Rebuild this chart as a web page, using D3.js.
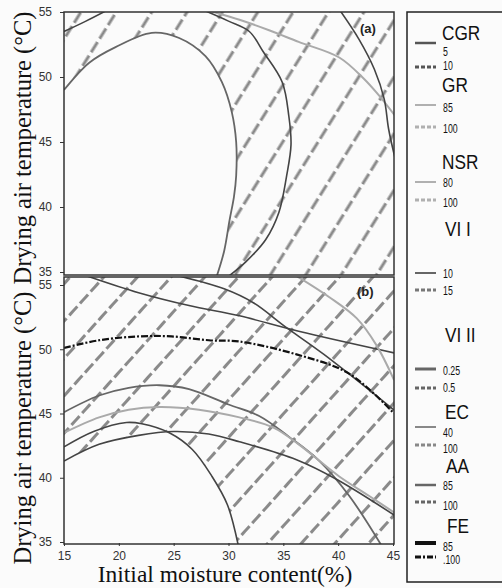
<!DOCTYPE html>
<html>
<head>
<meta charset="utf-8">
<script src="https://cdn.jsdelivr.net/npm/d3@7"></script>
<style>
  body { margin: 0; background: #fbfbfb; }
  svg { display: block; }
  .axis text { font-family: "Liberation Sans", Arial, sans-serif; font-size: 12px; fill: #333; }
  .axis path { display: none; }
  .axis line { stroke: #333; }
  .title { font-family: "Liberation Serif", "Times New Roman", serif; fill: #111; }
  .legend text { font-family: "Liberation Sans", Arial, sans-serif; fill: #111; }
</style>
</head>
<body>
<div id="chart"></div>
<script>
// ---- data ----
const xTicks = [15, 20, 25, 30, 35, 40, 45];
const yTicks = [35, 40, 45, 50, 55];

// panel (a): [initial moisture %, drying temp °C]
const aBoundary = [[15, 49.0], [17.3, 51.1], [19.7, 52.3], [23.0, 53.4], [25.5, 53.0], [27.9, 51.6],
  [29.4, 49.6], [30.3, 47.3], [30.7, 45.0], [30.7, 42.4], [30.5, 40.8], [30.1, 39.0], [29.6, 36.6], [28.9, 34.6]];
const aDarkInner = [[27.3, 55.3], [30.0, 54.3], [31.9, 53.5], [33.2, 51.9], [34.9, 49.6], [35.5, 47.0],
  [35.7, 44.8], [35.3, 42.4], [34.6, 39.6], [33.4, 37.5], [31.6, 35.8], [29.9, 34.6]];
const aDarkCorner = [[15, 53.5], [17.0, 54.3], [19.3, 55.3]];
const aLight = [[27.8, 55.2], [31.0, 54.4], [33.7, 53.6], [36.4, 52.7], [40.1, 51.5], [42.3, 49.9], [43.7, 48.6], [45.2, 47.0]];
const aDarkRight = [[40.1, 55.2], [41.9, 52.9], [43.3, 50.6], [44.2, 48.3], [44.6, 46.0], [45.2, 43.7]];

// panel (b)
const bTopA = [[17.1, 55.7], [21.8, 54.4], [26.4, 53.4], [31.0, 52.6], [36.4, 51.4], [45.2, 49.7]];
const bTopB = [[25.5, 55.7], [29.6, 54.7], [32.3, 53.6], [35.1, 51.8], [38.7, 49.6], [45.2, 45.2]];
const bTopLight = [[36.2, 55.7], [39.2, 54.05], [41.7, 52.4], [43.5, 50.3], [45.1, 47.6]];
const bFE100 = [[15, 50.1], [18.2, 50.7], [21.8, 51.0], [24.8, 51.0], [28.2, 50.7], [31.0, 50.6],
  [36.2, 49.6], [41.0, 48.1], [45.1, 45.0]];
const bMid = [[15, 45.1], [18.2, 46.4], [20.9, 47.0], [23.7, 47.2], [26.4, 46.9], [30.0, 45.7],
  [32.8, 44.8], [35.5, 43.2], [38.3, 41.3], [41.0, 38.6], [43.9, 34.8]];
const bLight = [[15, 43.5], [18.2, 44.7], [20.9, 45.3], [23.7, 45.5], [27.3, 45.3], [31.0, 44.7],
  [34.1, 43.9], [36.4, 42.6], [40.1, 40.1], [42.8, 38.6], [45.1, 37.3]];
const bDarkSteep = [[15, 42.4], [17.7, 43.6], [20.7, 44.3], [22.1, 44.2], [24.6, 43.5], [26.7, 42.2],
  [28.5, 40.1], [29.9, 37.9], [30.9, 34.7]];
const bDarkLow = [[15, 41.3], [18.2, 42.6], [21.8, 43.3], [25.0, 43.6], [28.2, 43.4], [31.0, 42.8],
  [36.2, 41.4], [39.8, 39.9], [45.1, 37.1]];
const bBoundary = [[15, 41.3], [18.2, 42.6], [21.8, 43.3], [24.6, 43.55], [26.7, 42.2], [28.5, 40.1],
  [29.9, 37.9], [30.9, 34.7]];

const legendTitles = ["CGR", "GR", "NSR", "VI I", "VI II", "EC", "AA", "FE"];
const legendLevels = [["5", "10"], ["85", "100"], ["80", "100"], ["10", "15"],
  ["0.25", "0.5"], ["40", "100"], ["85", "100"], ["85", ".100"]];

// ---- layout / styles ----
const width = 502, height = 588;
const left = 64, right = 394;
const panelA = { top: 12, bottom: 275, y0: 272, y1: 12, label: "(a)", lx: 360, ly: 33, hatch: "hatchA" };
const panelB = { top: 277, bottom: 544, y0: 542, y1: 285, label: "(b)", lx: 357, ly: 296, hatch: "hatchB" };

const styles = {
  dark:  { stroke: "#444", w: 1.6 },
  mid:   { stroke: "#666", w: 1.8 },
  light: { stroke: "#aaa", w: 2 },
  fe:    { stroke: "#111", w: 2.2, dash: "7,2,2,2" }
};

// title baseline / x, line y, label baseline for each legend group
const legendRows = [
  { ty: 40, tx: 442, ly: [43, 67], lab: [56, 70] },
  { ty: 92, tx: 442, ly: [105, 127], lab: [112, 133] },
  { ty: 169, tx: 442, ly: [182, 200], lab: [187, 207] },
  { ty: 236, tx: 445, ly: [273, 290], lab: [278, 295] },
  { ty: 342, tx: 445, ly: [369, 388], lab: [375, 392] },
  { ty: 419, tx: 445, ly: [427, 445], lab: [437, 453] },
  { ty: 473, tx: 446, ly: [485, 502], lab: [490, 510] },
  { ty: 533, tx: 447, ly: [543, 557], lab: [551, 564] }
];
const legendLineStyles = [
  [{ c: "#555", w: 2.5 }, { c: "#555", w: 3, d: "4,2" }],
  [{ c: "#b0b0b0", w: 2 }, { c: "#b0b0b0", w: 3, d: "4,2" }],
  [{ c: "#b0b0b0", w: 2 }, { c: "#b0b0b0", w: 3, d: "4,2" }],
  [{ c: "#666", w: 2 }, { c: "#777", w: 3, d: "4,2" }],
  [{ c: "#666", w: 3 }, { c: "#666", w: 3, d: "4,2" }],
  [{ c: "#888", w: 2 }, { c: "#888", w: 3, d: "4,2" }],
  [{ c: "#666", w: 2.5 }, { c: "#666", w: 3, d: "4,2" }],
  [{ c: "#111", w: 4 }, { c: "#111", w: 3, d: "6,2,2,2" }]
];

const svg = d3.select("#chart").append("svg")
  .attr("width", width).attr("height", height);

// hatch patterns (the excluded region)
const defs = svg.append("defs");
[["hatchA", 30, 32], ["hatchB", 25, 42]].forEach(([id, sp, rot]) => {
  defs.append("pattern")
    .attr("id", id)
    .attr("patternUnits", "userSpaceOnUse")
    .attr("width", sp).attr("height", 16)
    .attr("patternTransform", `rotate(${rot})`)
    .append("line")
    .attr("x1", sp / 2).attr("x2", sp / 2)
    .attr("y1", 0).attr("y2", 16)
    .attr("stroke", "#8a8a8a")
    .attr("stroke-width", 3)
    .attr("stroke-dasharray", "12,4");
});

const x = d3.scaleLinear().domain([15, 45]).range([left, 393]);

function drawPanel(p, boundary, series, showX) {
  const y = d3.scaleLinear().domain([35, 55]).range([p.y0, p.y1]);
  const clipId = "clip" + p.hatch;
  defs.append("clipPath").attr("id", clipId)
    .append("rect")
    .attr("x", left).attr("y", p.top)
    .attr("width", right - left).attr("height", p.bottom - p.top);

  const g = svg.append("g");
  const body = g.append("g").attr("clip-path", `url(#${clipId})`);

  body.append("rect")
    .attr("x", left).attr("y", p.top)
    .attr("width", right - left).attr("height", p.bottom - p.top)
    .attr("fill", `url(#${p.hatch})`);

  const curve = d3.line()
    .x(d => x(d[0])).y(d => y(d[1]))
    .curve(d3.curveCatmullRom.alpha(0.5));

  // feasible (white) region
  body.append("path")
    .attr("d", curve(boundary) + `L${left},${p.bottom}Z`)
    .attr("fill", "#fbfbfb");

  body.selectAll("path.curve")
    .data(series)
    .join("path")
    .attr("class", "curve")
    .attr("d", d => curve(d[0]))
    .attr("fill", "none")
    .attr("stroke", d => styles[d[1]].stroke)
    .attr("stroke-width", d => styles[d[1]].w)
    .attr("stroke-dasharray", d => styles[d[1]].dash || null);

  // frame
  g.append("rect")
    .attr("x", left).attr("y", p.top)
    .attr("width", right - left).attr("height", p.bottom - p.top)
    .attr("fill", "none").attr("stroke", "#333").attr("stroke-width", 1.5);

  g.append("g")
    .attr("class", "axis")
    .attr("transform", `translate(${left},0)`)
    .call(d3.axisLeft(y).tickValues(yTicks).tickSize(4).tickPadding(8));

  if (showX) {
    g.append("g")
      .attr("class", "axis")
      .attr("transform", `translate(0,${p.bottom - 1})`)
      .call(d3.axisBottom(x).tickValues(xTicks).tickSize(3).tickPadding(5));
  }

  g.append("text")
    .attr("x", p.lx).attr("y", p.ly)
    .attr("font-family", "Liberation Sans, Arial, sans-serif")
    .attr("font-weight", "bold")
    .attr("font-size", 13)
    .attr("fill", "#222")
    .text(p.label);
}

drawPanel(panelA, aBoundary, [
  [aBoundary, "mid"], [aDarkInner, "dark"], [aDarkCorner, "dark"],
  [aLight, "light"], [aDarkRight, "dark"]
], false);

drawPanel(panelB, bBoundary, [
  [bTopA, "dark"], [bTopB, "dark"], [bTopLight, "light"], [bFE100, "fe"],
  [bMid, "mid"], [bLight, "light"], [bDarkSteep, "dark"], [bDarkLow, "dark"]
], true);

// axis titles
svg.append("text").attr("class", "title")
  .attr("transform", "translate(31,428) rotate(-90)")
  .attr("text-anchor", "middle").attr("font-size", 24.5)
  .text("Drying air temperature (°C)");
svg.append("text").attr("class", "title")
  .attr("transform", "translate(31,148) rotate(-90)")
  .attr("text-anchor", "middle").attr("font-size", 24.5)
  .text("Drying air temperature (°C)");
svg.append("text").attr("class", "title")
  .attr("x", 225).attr("y", 582)
  .attr("text-anchor", "middle").attr("font-size", 23.5)
  .text("Initial moisture content(%)");

// legend
const lg = svg.append("g").attr("class", "legend");
lg.append("path")
  .attr("d", `M${width},12H407V582H${width}`)
  .attr("fill", "none").attr("stroke", "#222").attr("stroke-width", 1.5);

legendTitles.forEach((t, i) => {
  const row = legendRows[i];
  lg.append("text")
    .attr("transform", `translate(${row.tx},${row.ty}) scale(0.82,1)`)
    .attr("font-size", 21)
    .text(t);
  legendLevels[i].forEach((lv, j) => {
    const st = legendLineStyles[i][j];
    lg.append("line")
      .attr("x1", 415).attr("x2", 436)
      .attr("y1", row.ly[j]).attr("y2", row.ly[j])
      .attr("stroke", st.c).attr("stroke-width", st.w)
      .attr("stroke-dasharray", st.d || null);
    lg.append("text")
      .attr("transform", `translate(443,${row.lab[j]}) scale(0.65,1)`)
      .attr("font-size", 13.5)
      .text(lv);
  });
});
</script>
</body>
</html>
